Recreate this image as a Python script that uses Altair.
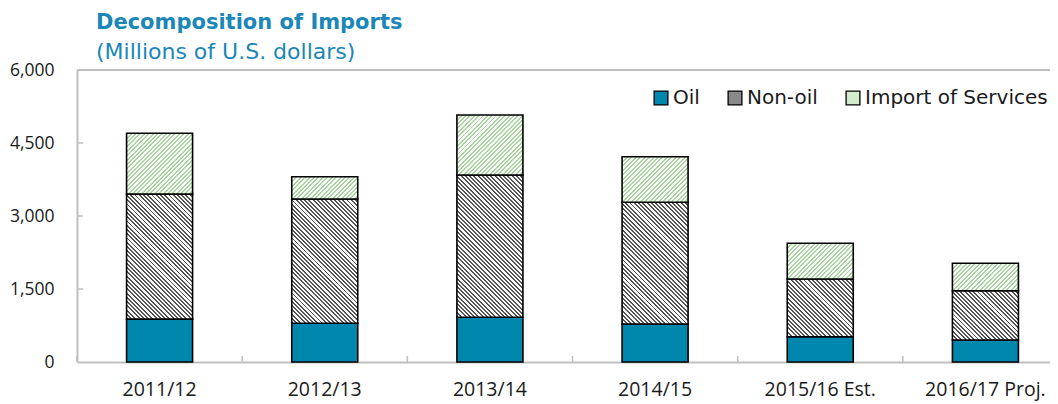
import math
import altair as alt
import pandas as pd

years = ["2011/12", "2012/13", "2013/14", "2014/15", "2015/16 Est.", "2016/17 Proj."]
oil = [880, 795, 918, 781, 520, 452]
non_oil = [2570, 2554, 2924, 2500, 1185, 1013]
services = [1250, 458, 1233, 937, 734, 563]
components = ["Oil", "Non-oil", "Import of Services"]
y_ticks = [0, 1500, 3000, 4500, 6000]
inner_ticks = [1500, 3000, 4500]

FONT = "Open Sans"
WIDE = "DejaVu Sans"
PLOT_W, PLOT_H = 973, 292
BAND_RANGE = 991
BAR_W = 66
Y_MAX = 6000

rows = []
for i, y in enumerate(years):
    for j, (c, vals) in enumerate(zip(components, [oil, non_oil, services])):
        rows.append({"year": y, "component": c, "value": vals[i], "order": j})
df = pd.DataFrame(rows)


def hatch(W, H, dark, light, slash, period=3.0, frac=0.5):
    L = (W + H) / math.sqrt(2)
    n = max(1, int(round(L / period)))
    k = (W + H) / (W * W + H * H)
    if slash:
        x1, y1, x2, y2 = 0, 0, k * W, k * H
    else:
        x1, y1, x2, y2 = 0, 1, k * W, 1 - k * H
    stops = []
    for i in range(n):
        a, b, c = i / n, (i + frac) / n, (i + 1) / n
        stops += [{"offset": a, "color": dark}, {"offset": b, "color": dark},
                  {"offset": b, "color": light}, {"offset": c, "color": light}]
    return {"gradient": "linear", "x1": x1, "y1": y1, "x2": x2, "y2": y2, "stops": stops}


conds = []
for i, y in enumerate(years):
    h1 = non_oil[i] * PLOT_H / Y_MAX
    conds.append({"test": f"datum.year === '{y}' && datum.component === 'Non-oil'",
                  "value": hatch(BAR_W, h1, "#555555", "#ffffff", False, 3.0, 0.45)})
    h2 = services[i] * PLOT_H / Y_MAX
    conds.append({"test": f"datum.year === '{y}' && datum.component === 'Import of Services'",
                  "value": hatch(BAR_W, h2, "#a6d59d", "#ffffff", True, 3.1, 0.45)})


def xscale():
    return alt.Scale(domain=years, range=[0, BAND_RANGE], paddingInner=0, paddingOuter=0)


def yscale():
    return alt.Scale(domain=[0, Y_MAX], nice=False)


base = alt.Chart(df)

bars = base.mark_bar(size=BAR_W, stroke="black", strokeWidth=1.6).encode(
    x=alt.X("year:N", scale=xscale(), sort=years,
            axis=alt.Axis(title=None, labelAngle=0, ticks=False, domainColor="#bfbfbf",
                          domainWidth=2, labelFont=FONT, labelFontSize=19.5,
                          labelColor="#1a1a1a", labelPadding=18)),
    y=alt.Y("value:Q", stack="zero", scale=yscale(),
            axis=alt.Axis(title=None, values=y_ticks, format=",.0f", grid=False, ticks=False,
                          domainColor="#bfbfbf", domainWidth=2, labelFont=FONT,
                          labelFontSize=17.5, labelColor="#1a1a1a", labelPadding=23)),
    order=alt.Order("order:Q"),
    fill=alt.value("#0087ad", condition=conds),
)

legend_layer = base.mark_square(opacity=0, size=10).encode(
    x=alt.X("year:N", scale=xscale(), sort=years, axis=None),
    y=alt.Y("value:Q", stack=None, scale=yscale(), axis=None),
    color=alt.Color("component:N", sort=components,
                    scale=alt.Scale(domain=components, range=["#0087ad", "#8a8a8a", "#d2ebcc"]),
                    legend=alt.Legend(title=None, orient="none", direction="horizontal",
                                      legendX=574, legendY=18, symbolType="square",
                                      symbolSize=190, symbolOpacity=1,
                                      labelFont=WIDE, labelFontSize=20, labelColor="#1a1a1a",
                                      labelOffset=2, columnPadding=25, labelLimit=400,
                                      symbolStrokeColor="black", symbolStrokeWidth=1.3)),
)

tick_df = pd.DataFrame({"v": inner_ticks})
ytick_rules = alt.Chart(tick_df).mark_rule(color="#bfbfbf", strokeWidth=1.5).encode(
    y=alt.Y("v:Q", scale=yscale(), axis=None), x=alt.value(0), x2=alt.value(6))

xtick_df = pd.DataFrame({"year": years})
xtick_rules = alt.Chart(xtick_df).mark_rule(color="#bfbfbf", strokeWidth=1.5).encode(
    x=alt.X("year:N", scale=xscale(), sort=years, bandPosition=0, axis=None),
    y=alt.value(PLOT_H), y2=alt.value(PLOT_H - 6))

top_rule = alt.Chart(tick_df).mark_rule(color="#bfbfbf", strokeWidth=2).encode(
    x=alt.value(0), x2=alt.value(1100), y=alt.value(0))

chart = alt.layer(top_rule, ytick_rules, xtick_rules, bars, legend_layer).resolve_scale(
    x="independent", y="independent"
).properties(
    width=PLOT_W, height=PLOT_H,
    autosize=alt.AutoSizeParams(type="none"),
    padding={"left": 69, "top": 62, "right": 0, "bottom": 42},
    title=alt.TitleParams(text="Decomposition of Imports", subtitle="(Millions of U.S. dollars)",
                          anchor="start", frame="group", dx=19, offset=0, dy=2,
                          font=WIDE, fontSize=21, fontWeight="bold", color="#1a87b8",
                          subtitleFont=WIDE, subtitleFontSize=22, subtitleColor="#1a87b8",
                          subtitlePadding=9),
).configure_view(stroke=None)

chart.save("out.html", embed_options={"renderer": "svg", "actions": False})
